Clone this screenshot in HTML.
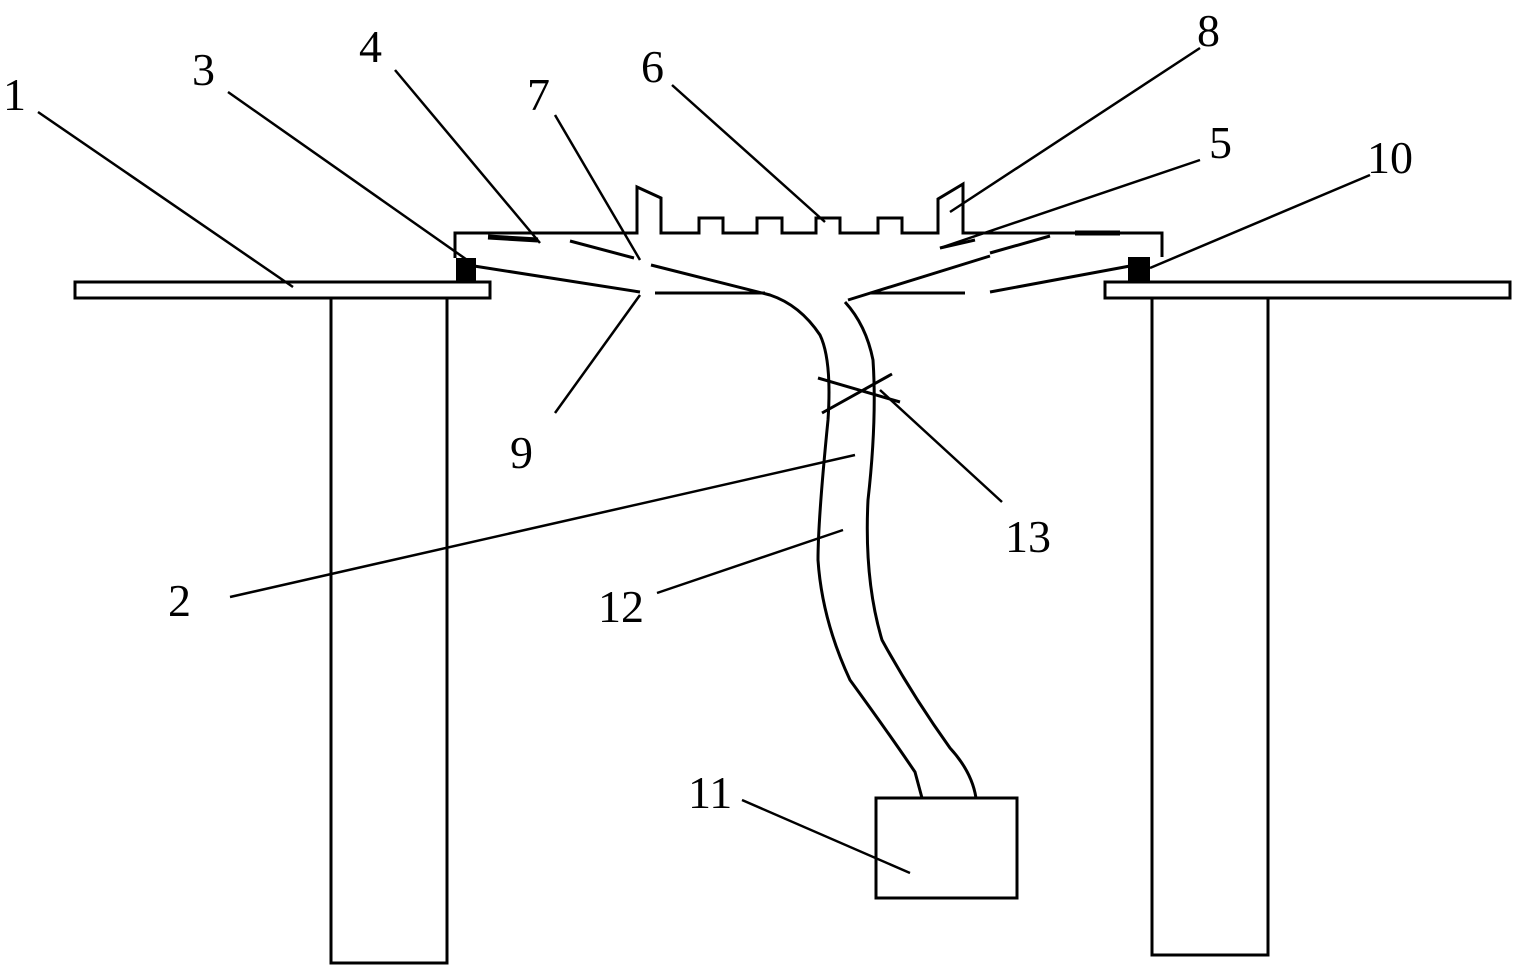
<!DOCTYPE html>
<html><head><meta charset="utf-8"><style>
html,body{margin:0;padding:0;background:#fff;}
svg{display:block}
text{font-family:"Liberation Serif",serif;font-size:46px;fill:#000}
</style></head><body>
<svg width="1526" height="969" viewBox="0 0 1526 969" xmlns="http://www.w3.org/2000/svg">
<g fill="none" stroke="#000" stroke-width="3">
<!-- beams and pillars -->
<rect x="75" y="282" width="415" height="16"/>
<rect x="1105" y="282" width="405" height="16"/>
<rect x="331" y="298" width="116" height="665"/>
<rect x="1152" y="298" width="116" height="657"/>
<!-- plate with teeth -->
<polyline points="455,258 455,233 637,233 637,187 661,198 661,233 699,233 699,218 723,218 723,233 757,233 757,218 782,218 782,233 816,233 816,218 840,218 840,233 878,233 878,218 902,218 902,233 938,233 938,199 963,184 963,233 1162,233 1162,257"/>
<!-- inner lines -->
<line x1="488" y1="237" x2="538" y2="240" stroke-width="5"/>
<line x1="570" y1="241" x2="634" y2="258"/>
<line x1="474" y1="266" x2="640" y2="292"/>
<line x1="655" y1="293" x2="765" y2="293"/>
<path d="M651,265 L770,295 Q800,305 820,335 Q832,360 828,420 Q818,520 818,560 Q822,620 850,680 Q890,735 915,772 L922,798"/>
<path d="M845,302 Q866,325 873,360 Q877,420 868,500 Q864,580 882,640 Q912,695 950,748 Q972,772 976,798"/>
<line x1="848" y1="300" x2="990" y2="256"/>
<line x1="870" y1="293" x2="965" y2="293"/>
<line x1="990" y1="292" x2="1130" y2="266"/>
<line x1="940" y1="248" x2="975" y2="240"/>
<line x1="990" y1="253" x2="1050" y2="236"/>
<line x1="1075" y1="233" x2="1120" y2="233" stroke-width="5"/>
<!-- cross 13 -->
<line x1="818" y1="378" x2="900" y2="402"/>
<line x1="822" y1="413" x2="892" y2="374"/>
<!-- box 11 -->
<rect x="876" y="798" width="141" height="100"/>
</g>
<rect x="456" y="258" width="20" height="25" fill="#000"/>
<rect x="1128" y="257" width="22" height="25" fill="#000"/>
<g stroke="#000" stroke-width="2.5">
<line x1="38" y1="112" x2="293" y2="287"/>
<line x1="228" y1="92" x2="470" y2="262"/>
<line x1="395" y1="70" x2="540" y2="243"/>
<line x1="555" y1="115" x2="640" y2="260"/>
<line x1="672" y1="85" x2="825" y2="222"/>
<line x1="1200" y1="48" x2="950" y2="212"/>
<line x1="1200" y1="160" x2="940" y2="248"/>
<line x1="1370" y1="175" x2="1150" y2="268"/>
<line x1="555" y1="413" x2="640" y2="295"/>
<line x1="230" y1="597" x2="855" y2="455"/>
<line x1="657" y1="593" x2="843" y2="530"/>
<line x1="742" y1="800" x2="910" y2="873"/>
<line x1="880" y1="390" x2="1002" y2="502"/>
</g>
<text x="3" y="110">1</text>
<text x="192" y="85">3</text>
<text x="359" y="62">4</text>
<text x="527" y="110">7</text>
<text x="641" y="82">6</text>
<text x="1197" y="46">8</text>
<text x="1209" y="158">5</text>
<text x="1367" y="173">10</text>
<text x="510" y="468">9</text>
<text x="168" y="616">2</text>
<text x="598" y="622">12</text>
<text x="688" y="808">11</text>
<text x="1005" y="552">13</text>
</svg>
</body></html>
